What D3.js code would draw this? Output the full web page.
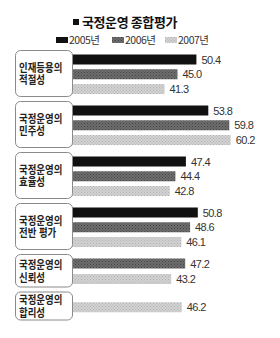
<!DOCTYPE html>
<html>
<head>
<meta charset="utf-8">
<script src="https://cdn.jsdelivr.net/npm/d3@7"></script>
<style>
  body { margin: 0; background: #fff; }
  svg { display: block; }
</style>
</head>
<body>
<div id="chart"></div>
<script>
// chart data
let title = "국정운영 종합평가";
let seriesNames = ["2005년", "2006년", "2007년"];
let categories = [
    ["인재등용의", "적절성"],
    ["국정운영의", "민주성"],
    ["국정운영의", "효율성"],
    ["국정운영의", "전반 평가"],
    ["국정운영의", "신뢰성"],
    ["국정운영의", "합리성"]
];
let values2005 = [50.4, 53.8, 47.4, 50.8, null, null];
let values2006 = [45.0, 59.8, 44.4, 48.6, 47.2, null];
let values2007 = [41.3, 60.2, 42.8, 46.1, 43.2, 46.2];

let width = 280, height = 338;

let svg = d3.select("#chart").append("svg")
    .attr("width", width)
    .attr("height", height);

// fill patterns for the grey series
let defs = svg.append("defs");
function makePattern(id, base, dot) {
    let p = defs.append("pattern")
        .attr("id", id)
        .attr("width", 3)
        .attr("height", 3)
        .attr("patternUnits", "userSpaceOnUse");
    p.append("rect").attr("width", 3).attr("height", 3).attr("fill", base);
    p.append("rect").attr("x", 0).attr("y", 0).attr("width", 1).attr("height", 1).attr("fill", dot);
    p.append("rect").attr("x", 1.5).attr("y", 1.5).attr("width", 1).attr("height", 1).attr("fill", dot);
}
makePattern("pat2006", "#6e6e6e", "#444");
makePattern("pat2007", "#d2d2d2", "#b2b2b2");

let fills = ["#111", "url(#pat2006)", "url(#pat2007)"];
let allValues = [values2005, values2006, values2007];

// title
let titleG = svg.append("g");
titleG.append("rect")
    .attr("x", 73).attr("y", 19)
    .attr("width", 6).attr("height", 6)
    .attr("fill", "#111");
titleG.append("text")
    .attr("x", 82).attr("y", 27)
    .attr("font-family", "'Noto Sans CJK KR', sans-serif")
    .attr("font-size", "13px")
    .attr("font-weight", "bold")
    .attr("letter-spacing", "-0.4px")
    .attr("fill", "#111")
    .text(title);

// legend
let legendX = [56, 112, 165];
let legend = svg.append("g").selectAll("g")
    .data(seriesNames)
    .enter()
    .append("g")
    .attr("transform", (d, i) => `translate(${legendX[i]}, 37)`);
legend.append("rect")
    .attr("width", 12).attr("height", 6)
    .attr("fill", (d, i) => fills[i]);
legend.append("text")
    .attr("x", 13).attr("y", 7)
    .attr("font-family", "'Noto Sans CJK KR', sans-serif")
    .attr("font-size", "10.5px")
    .attr("letter-spacing", "-0.5px")
    .attr("fill", "#333")
    .text(d => d);

// scales
let boxLeft = 15, boxRight = 72;
let xScale = d3.scaleLinear()
    .domain([0, 70])
    .range([20, 265]);

let barPitch = 13.5, barHeight = 10, boxPad = 4.5, groupGap = 5, minBox = 28;

// build groups with only the series that have values
let groups = categories.map(function(cat, gi) {
    let bars = [];
    allValues.forEach(function(vals, si) {
        if (vals[gi] != null) bars.push({ series: si, value: vals[gi] });
    });
    return { label: cat, bars: bars };
});

let yCursor = 50;
groups.forEach(function(g) {
    let barsH = g.bars.length * barPitch - (barPitch - barHeight);
    g.boxH = Math.max(barsH + 2 * boxPad, minBox);
    g.top = yCursor;
    g.barTop = yCursor + (g.boxH - barsH) / 2;
    yCursor += g.boxH + groupGap;
});

let groupSel = svg.append("g").selectAll("g")
    .data(groups)
    .enter()
    .append("g");

groupSel.each(function(g) {
    let sel = d3.select(this);
    let yScale = d3.scaleBand()
        .domain(g.bars.map(b => b.series))
        .range([g.barTop, g.barTop + g.bars.length * barPitch])
        .paddingInner((barPitch - barHeight) / barPitch)
        .paddingOuter(0);

    sel.selectAll("rect.bar")
        .data(g.bars)
        .enter()
        .append("rect")
        .attr("class", "bar")
        .attr("x", boxRight)
        .attr("y", d => yScale(d.series))
        .attr("width", d => xScale(d.value) - boxRight)
        .attr("height", barHeight)
        .attr("fill", d => fills[d.series]);

    sel.selectAll("text.val")
        .data(g.bars)
        .enter()
        .append("text")
        .attr("class", "val")
        .attr("x", d => xScale(d.value) + 5)
        .attr("y", d => yScale(d.series) + barHeight / 2 + 4)
        .attr("font-family", "'Liberation Sans', Arial, sans-serif")
        .attr("font-size", "11px")
        .attr("letter-spacing", "-0.6px")
        .attr("fill", "#333")
        .text(d => d.value.toFixed(1));

    // label box
    sel.append("rect")
        .attr("x", boxLeft + 0.5)
        .attr("y", g.top + 0.5)
        .attr("width", boxRight - boxLeft)
        .attr("height", g.boxH)
        .attr("rx", 5)
        .attr("fill", "#fff")
        .attr("stroke", "#8a8a8a")
        .attr("stroke-width", 1);

    // condensed two-line label
    let mid = g.top + g.boxH / 2;
    let lab = sel.append("text")
        .attr("class", "lab")
        .attr("transform", `translate(19, ${mid - 1.5}) scale(0.82, 1)`)
        .attr("font-family", "'Liberation Sans', 'Noto Sans CJK KR', sans-serif")
        .attr("font-size", "11.5px")
        .attr("font-weight", "bold")
        .attr("fill", "#222");
    lab.selectAll("tspan")
        .data(g.label)
        .enter()
        .append("tspan")
        .attr("x", 0)
        .attr("dy", (d, i) => i === 0 ? 0 : 12.8)
        .text(d => d);
});
</script>
</body>
</html>
